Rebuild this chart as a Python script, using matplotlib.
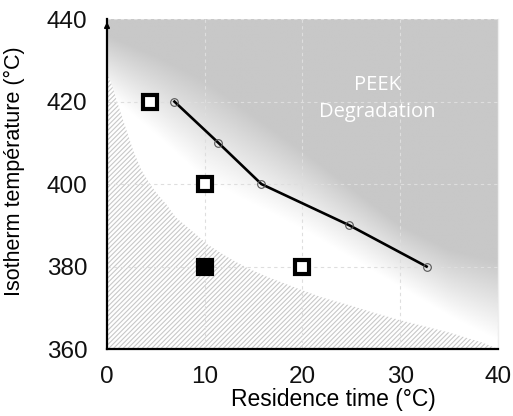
import numpy as np
import matplotlib
matplotlib.use("Agg")
import matplotlib.pyplot as plt

# measured points (residence time, isotherm temperature)
line_x = [6.9, 11.4, 15.8, 24.8, 32.7]
line_y = [420, 410, 400, 390, 380]
open_x = [4.4, 10, 20]
open_y = [420, 400, 380]
filled_x = [10]
filled_y = [380]

# lower-left hatched zone boundary
hatch_x = [0, 0.5, 1.3, 2, 2.7, 3.5, 4.4, 5, 6.1, 7, 8.5, 9.5, 10.2, 11.5, 12.9,
           14.5, 16.4, 19.7, 22, 25, 27, 30, 35, 38.5, 40]
hatch_y = [427, 424, 418, 413, 408, 403.5, 400, 398, 395, 392, 389, 387, 385.5,
           383.5, 381.5, 379.5, 377.5, 374.5, 372.5, 370.5, 369, 367, 364, 361.5, 360]

# degradation shading: white below shade_lo, full grey above shade_hi
shade_x = [0, 5, 10, 20, 30, 35, 40]
shade_lo = [422, 412, 401, 389, 375, 368, 362]
shade_hi = [436, 431, 425, 408, 390, 384, 381]

xticks = [0, 10, 20, 30, 40]
yticks = [360, 380, 400, 420, 440]

plt.rcParams['font.family'] = ['Liberation Sans', 'DejaVu Sans']
plt.rcParams['hatch.linewidth'] = 0.8

fig = plt.figure(figsize=(5.13, 4.16), dpi=100)
ax = fig.add_axes([0.2086, 0.161, 0.762, 0.793])
ax.set_xlim(0, 40)
ax.set_ylim(360, 440)

# gradient background
gx = np.linspace(0, 40, 400)
gy = np.linspace(360, 440, 400)
GX, GY = np.meshgrid(gx, gy)
lo = np.interp(GX, shade_x, shade_lo)
hi = np.interp(GX, shade_x, shade_hi)
t = np.clip((GY - lo) / (hi - lo), 0, 1)
gray = 1 - t * (1 - 0.785)
ax.imshow(gray, extent=[0, 40, 360, 440], origin='lower', cmap='gray',
          vmin=0, vmax=1, aspect='auto', zorder=0, interpolation='bilinear')

ax.grid(True, color='#dedede', linestyle=(0, (3, 3)), linewidth=0.8, zorder=1)
ax.set_axisbelow(False)

ax.fill_between(hatch_x, 360, hatch_y, facecolor='white', edgecolor='#c8c8c8',
                hatch='///////', linewidth=0, zorder=2)

ax.plot(line_x, line_y, color='black', lw=1.9, zorder=3)
ax.plot(line_x, line_y, 'o', ms=5.5, mfc='none', mec='#555555', mew=0.8, zorder=4)
ax.plot(open_x, open_y, 's', ms=9.5, mfc='white', mec='black', mew=3, zorder=5)
ax.plot(filled_x, filled_y, 's', ms=10, mfc='black', mec='black', mew=3, zorder=5)

ax.text(27.7, 424, 'PEEK', color='white', fontsize=14.5, family='Open Sans',
        ha='center', va='center', zorder=6)
ax.text(27.7, 417.5, 'Degradation', color='white', fontsize=14.5, family='Open Sans',
        ha='center', va='center', zorder=6)

ax.spines['top'].set_visible(False)
ax.spines['right'].set_color('#eeeeee')
ax.spines['right'].set_linewidth(1.0)
for s in ['left', 'bottom']:
    ax.spines[s].set_linewidth(1.6)
    ax.spines[s].set_zorder(7)

ax.annotate('', xy=(0, 1.0), xytext=(0, 0.97), xycoords='axes fraction',
            arrowprops=dict(arrowstyle='-|>', color='black', lw=1.2,
                            mutation_scale=8), zorder=8)

ax.set_xticks(xticks)
ax.set_yticks(yticks)
ax.tick_params(length=0, labelsize=17.5, colors='#111111')
ax.tick_params(axis='x', pad=12)
ax.tick_params(axis='y', pad=14)

ax.set_xlabel('Residence time (°C)', fontsize=16.5)
ax.xaxis.set_label_coords(0.58, -0.118)
ax.set_ylabel('Isotherm température (°C)', fontsize=15.5)
ax.yaxis.set_label_coords(-0.21, 0.54)

fig.savefig('out.png', dpi=100)
